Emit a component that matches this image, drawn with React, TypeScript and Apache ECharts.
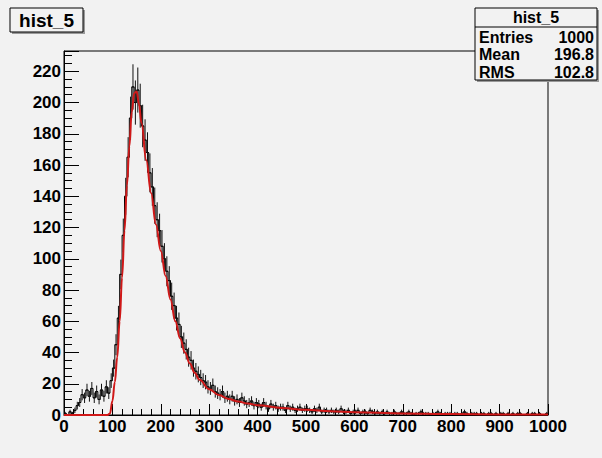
import React, { useEffect, useRef } from "react";
import * as echarts from "echarts";

const binWidth = 5;
// counts per bin, bins [0,5), [5,10), ... [995,1000)
const counts = [
  1, 0, 2, 1, 3, 6, 8, 13, 11, 16,
  12, 17, 11, 15, 10, 16, 12, 18, 14, 22,
  30, 45, 62, 90, 115, 140, 165, 190, 210, 200,
  208, 198, 185, 176, 168, 155, 146, 134, 125, 118,
  108, 100, 92, 86, 76, 70, 62, 58, 50, 46,
  42, 37, 35, 30, 28, 26, 24, 22, 21, 18,
  17, 19, 15, 14, 13, 15, 11, 12, 10, 12,
  9, 10, 8, 11, 9, 7, 8, 9, 6, 8,
  7, 5, 8, 6, 4, 7, 5, 6, 4, 5,
  5, 3, 6, 4, 5, 3, 4, 5, 3, 4,
  4, 3, 2, 4, 3, 5, 2, 3, 3, 2,
  3, 2, 3, 2, 4, 2, 2, 3, 1, 2,
  2, 3, 1, 2, 2, 1, 3, 2, 1, 2,
  1, 2, 1, 2, 1, 1, 2, 1, 1, 2,
  1, 1, 2, 1, 0, 1, 1, 2, 1, 1,
  1, 0, 1, 1, 2, 1, 0, 1, 1, 1,
  0, 1, 1, 0, 1, 2, 1, 0, 1, 1,
  1, 0, 1, 1, 0, 1, 1, 0, 1, 0,
  1, 1, 0, 1, 0, 1, 0, 1, 1, 0,
  0, 1, 0, 1, 1, 0, 1, 0, 0, 1,
];

const fitX = [0, 90, 95, 100, 105, 110, 115, 120, 125, 130, 135, 140, 145, 150, 155, 160, 170, 180, 190, 200, 210, 220, 230, 240, 250, 260, 270, 280, 300, 320, 340, 360, 380, 400, 450, 500, 550, 600, 700, 800, 900, 1000];
const fitY = [0, 0, 1, 9, 21, 37, 60, 88, 118, 147, 172, 194, 206, 207, 199, 187, 163, 142, 122, 105, 89, 74, 60, 49, 40, 33, 27, 22.5, 16.5, 12.8, 10.3, 8.6, 7.3, 6.3, 4.5, 3.3, 2.4, 1.8, 1.0, 0.6, 0.4, 0.25];

const statsLabels = ["Entries", "Mean", "RMS"];
const statsValues = ["1000", "196.8", "102.8"];
const histName = "hist_5";

const FONT = "'Liberation Sans', Arial, Helvetica, sans-serif";
const BG = "#f2f2f2";

export default function App() {
  const ref = useRef<HTMLDivElement>(null);
  useEffect(() => {
    if (!ref.current) return;
    const chart = echarts.init(ref.current, null, { renderer: "svg" });
    const histData = counts.map((c, i) => [i * binWidth + binWidth / 2, c]);
    const fitData = fitX.map((x, i) => [x, fitY[i]]);

    const statsGraphics: any[] = [];
    const rowY = [37, 54, 72];
    statsLabels.forEach((l, i) => {
      statsGraphics.push({
        type: "text", x: 479, y: rowY[i],
        style: { text: l, font: `bold 16px ${FONT}`, fill: "#000", verticalAlign: "middle" },
      });
      statsGraphics.push({
        type: "text", x: 594, y: rowY[i],
        style: { text: statsValues[i], font: `bold 16px ${FONT}`, fill: "#000", align: "right", verticalAlign: "middle" },
      });
    });

    chart.setOption({
      animation: false,
      backgroundColor: BG,
      grid: { left: 64, top: 51, width: 484, height: 364, show: true, borderColor: "#000", borderWidth: 1, backgroundColor: BG },
      xAxis: {
        type: "value", min: 0, max: 1000, interval: 100,
        axisLine: { lineStyle: { color: "#000", width: 1 } },
        axisTick: { inside: true, length: 11, lineStyle: { color: "#000" } },
        minorTick: { show: true, splitNumber: 5, length: 6, lineStyle: { color: "#000" } },
        splitLine: { show: false },
        axisLabel: { color: "#000", fontFamily: FONT, fontWeight: "bold", fontSize: 17, margin: 3, formatter: (v: number) => String(v) },
      },
      yAxis: {
        type: "value", min: 0, max: 233, interval: 20,
        axisLine: { show: true, lineStyle: { color: "#000", width: 1 } },
        axisTick: { inside: true, length: 15, lineStyle: { color: "#000" } },
        minorTick: { show: true, splitNumber: 4, length: 8, lineStyle: { color: "#000" } },
        splitLine: { show: false },
        axisLabel: { color: "#000", fontFamily: FONT, fontWeight: "bold", fontSize: 17, margin: 3, showMaxLabel: false, formatter: (v: number) => String(v) },
      },
      series: [
        {
          type: "line", data: histData, step: "middle", showSymbol: false, symbol: "none",
          lineStyle: { color: "#000", width: 1 }, z: 2,
        },
        {
          type: "custom", data: histData, z: 3,
          renderItem: (params: any, api: any) => {
            const x = api.value(0);
            const v = api.value(1);
            const e = Math.sqrt(v);
            const l = api.coord([x - binWidth / 2, v]);
            const r = api.coord([x + binWidth / 2, v]);
            const children: any[] = [
              { type: "line", shape: { x1: l[0], y1: l[1], x2: r[0], y2: r[1] }, style: { stroke: "#000", lineWidth: 1 } },
            ];
            if (v > 0) {
              const lo = api.coord([x, v - e]);
              const hi = api.coord([x, v + e]);
              children.push({ type: "line", shape: { x1: lo[0], y1: lo[1], x2: hi[0], y2: hi[1] }, style: { stroke: "#111", lineWidth: 1 } });
            }
            return { type: "group", children };
          },
        },
        {
          type: "line", data: fitData, smooth: 0.4, smoothMonotone: "x", showSymbol: false, symbol: "none",
          lineStyle: { color: "#d01818", width: 2 }, z: 5,
        },
      ],
      graphic: [
        { type: "rect", shape: { x: 12, y: 10, width: 73, height: 24 }, style: { fill: "#999" }, z: 10 },
        { type: "rect", shape: { x: 10, y: 8, width: 73, height: 24 }, style: { fill: BG, stroke: "#000", lineWidth: 1 }, z: 11 },
        { type: "text", x: 46.5, y: 20.5, z: 12, style: { text: histName, font: `bold 19px ${FONT}`, fill: "#000", align: "center", verticalAlign: "middle" } },
        { type: "rect", shape: { x: 477, y: 10, width: 122, height: 72 }, style: { fill: "#999" }, z: 10 },
        { type: "rect", shape: { x: 475, y: 8, width: 122, height: 72 }, style: { fill: BG, stroke: "#000", lineWidth: 1 }, z: 11 },
        { type: "line", shape: { x1: 475, y1: 27, x2: 597, y2: 27 }, style: { stroke: "#000", lineWidth: 1 }, z: 12 },
        { type: "text", x: 536, y: 17.5, z: 12, style: { text: histName, font: `bold 16px ${FONT}`, fill: "#000", align: "center", verticalAlign: "middle" } },
        ...statsGraphics.map((g) => ({ ...g, z: 12 })),
      ],
    });
    return () => chart.dispose();
  }, []);
  return <div ref={ref} style={{ position: "absolute", left: 0, top: 0, width: 602, height: 458 }} />;
}
